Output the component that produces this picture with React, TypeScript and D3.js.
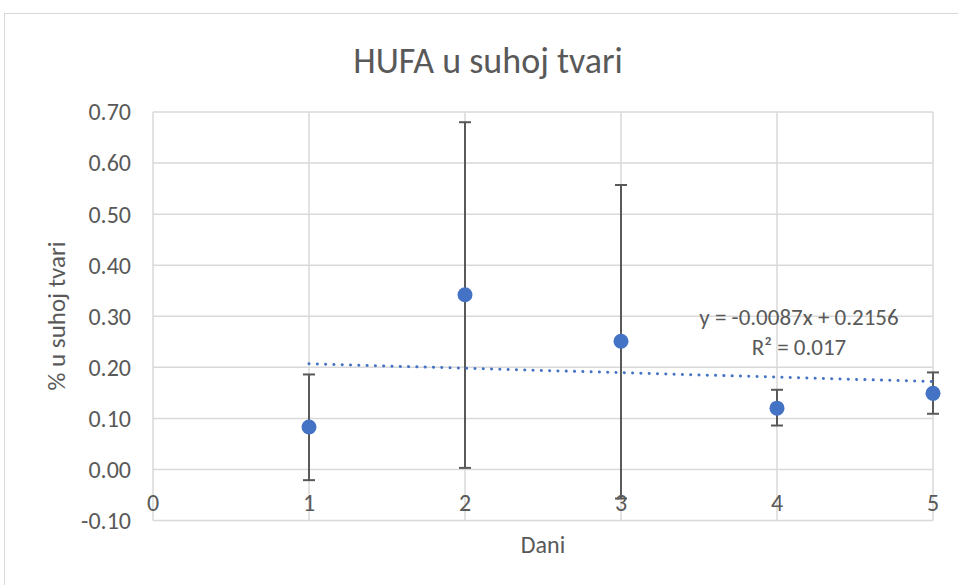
import React from 'react'
import * as d3 from 'd3'

const days = [1, 2, 3, 4, 5]
const values = [0.083, 0.342, 0.251, 0.12, 0.149]
const errTop = [0.186, 0.68, 0.557, 0.156, 0.19]
const errBottom = [-0.021, 0.003, -0.057, 0.086, 0.109]
const yTicks = [-0.1, 0, 0.1, 0.2, 0.3, 0.4, 0.5, 0.6, 0.7]
const xTicks = [0, 1, 2, 3, 4, 5]
const trendSlope = -0.0087
const trendIntercept = 0.2156

const W = 958
const H = 585
const margin = { top: 112, right: 25, bottom: 63, left: 153 }
const FONT = "Calibri, Carlito, Lato, 'Open Sans', sans-serif"

const App = () => {
  const x = d3.scaleLinear().domain([0, 5]).range([margin.left, W - margin.right])
  const y = d3.scaleLinear().domain([-0.1, 0.7]).range([H - margin.bottom - 1.5, margin.top])

  const trend = d3
    .line<number>()
    .x(d => x(d))
    .y(d => y(trendSlope * d + trendIntercept))

  const textColor = '#595959'
  const gridColor = '#d9d9d9'

  return (
    <svg width={W} height={H} style={{ position: 'absolute', left: 0, top: 0 }} fontFamily={FONT}>
      <rect x={0} y={0} width={W} height={H} fill='#fff' />
      <rect x={4.5} y={13.5} width={W + 10} height={H + 10} fill='none' stroke='#d9d9d9' />
      <text x={488} y={60} dy='0.35em' textAnchor='middle' fontSize={36} fill={textColor}>
        HUFA u suhoj tvari
      </text>

      {yTicks.map(t => (
        <g key={'y' + t}>
          <line x1={x(0)} x2={x(5)} y1={y(t)} y2={y(t)} stroke={gridColor} strokeWidth={1.5} />
          <text x={131} y={y(t)} dy='0.35em' textAnchor='end' fontSize={24} fill={textColor}>
            {t.toFixed(2)}
          </text>
        </g>
      ))}
      {xTicks.map(t => (
        <g key={'x' + t}>
          <line x1={x(t)} x2={x(t)} y1={y(-0.1)} y2={y(0.7)} stroke={gridColor} strokeWidth={1.5} />
          <text x={x(t)} y={y(0) + 33} dy='0.35em' textAnchor='middle' fontSize={24} fill={textColor}>
            {t}
          </text>
        </g>
      ))}

      <text transform={`translate(65,316) rotate(-90)`} textAnchor='middle' fontSize={25} fill={textColor}>
        % u suhoj tvari
      </text>
      <text x={543} y={545} dy='0.35em' textAnchor='middle' fontSize={24} fill={textColor}>
        Dani
      </text>

      {days.map((d, i) => (
        <g key={'e' + d} stroke='#595959' strokeWidth={2}>
          <line x1={x(d)} x2={x(d)} y1={y(errTop[i])} y2={y(errBottom[i])} />
          <line x1={x(d) - 6} x2={x(d) + 6} y1={y(errTop[i])} y2={y(errTop[i])} />
          <line x1={x(d) - 6} x2={x(d) + 6} y1={y(errBottom[i])} y2={y(errBottom[i])} />
        </g>
      ))}

      <path d={trend([1, 5]) || ''} fill='none' stroke='#4472c4' strokeWidth={3}
        strokeDasharray='0.1 8.2' strokeLinecap='round' />

      {days.map((d, i) => (
        <circle key={'p' + d} cx={x(d)} cy={y(values[i])} r={7.5} fill='#4472c4' />
      ))}

      <text x={799} y={317} dy='0.35em' textAnchor='middle' fontSize={23} fill={textColor}>
        y = -0.0087x + 0.2156
      </text>
      <text x={799} y={347} dy='0.35em' textAnchor='middle' fontSize={23} fill={textColor}>
        R² = 0.017
      </text>
    </svg>
  )
}

export default App
